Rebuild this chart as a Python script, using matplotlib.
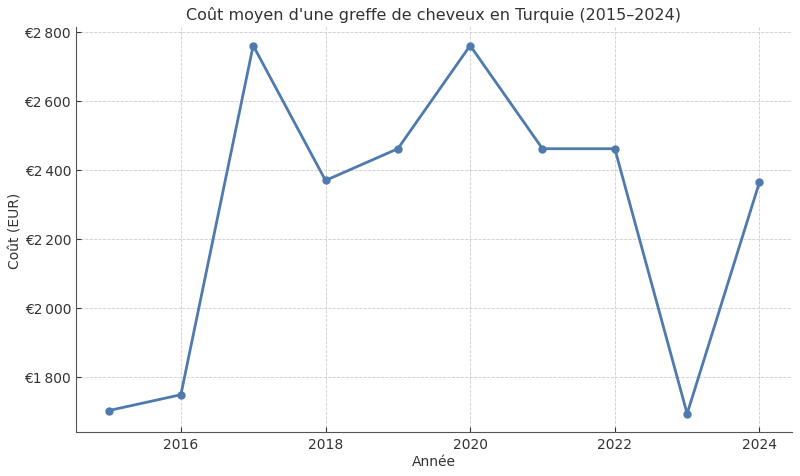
import matplotlib
matplotlib.use("Agg")
import matplotlib.pyplot as plt
from matplotlib.ticker import FuncFormatter

years = [2015, 2016, 2017, 2018, 2019, 2020, 2021, 2022, 2023, 2024]
cost_eur = [1702, 1748, 2760, 2369, 2461, 2760, 2461, 2461, 1693, 2364]

TEXT = "#333333"

plt.rcParams["font.family"] = ["DejaVu Sans"]
plt.rcParams["text.color"] = TEXT
plt.rcParams["axes.labelcolor"] = TEXT
plt.rcParams["xtick.color"] = TEXT
plt.rcParams["ytick.color"] = TEXT

fig, ax = plt.subplots(figsize=(8, 4.77), dpi=100)
fig.subplots_adjust(left=0.095, right=0.99, top=0.941, bottom=0.092)
ax.plot(years, cost_eur, color="#4f7aae", linewidth=2, marker="o", markersize=5)

ax.set_title("Coût moyen d'une greffe de cheveux en Turquie (2015–2024)", fontsize=11.5, color=TEXT)
ax.set_xlabel("Année", fontsize=10, labelpad=2)
ax.set_ylabel("Coût (EUR)", fontsize=10, labelpad=1)

def euro(v, pos):
    return "€" + f"{int(v):,}".replace(",", "\u202f")

ax.yaxis.set_major_formatter(FuncFormatter(euro))
ax.set_xticks([2016, 2018, 2020, 2022, 2024])
ax.set_yticks([1800, 2000, 2200, 2400, 2600, 2800])
ax.tick_params(direction="in", labelsize=10)
ax.grid(True, linestyle="--", linewidth=0.6, color="#cccccc")
ax.spines["top"].set_visible(False)
ax.spines["right"].set_visible(False)
for s in ("left", "bottom"):
    ax.spines[s].set_color("#555555")

fig.savefig("out.png", dpi=100)
